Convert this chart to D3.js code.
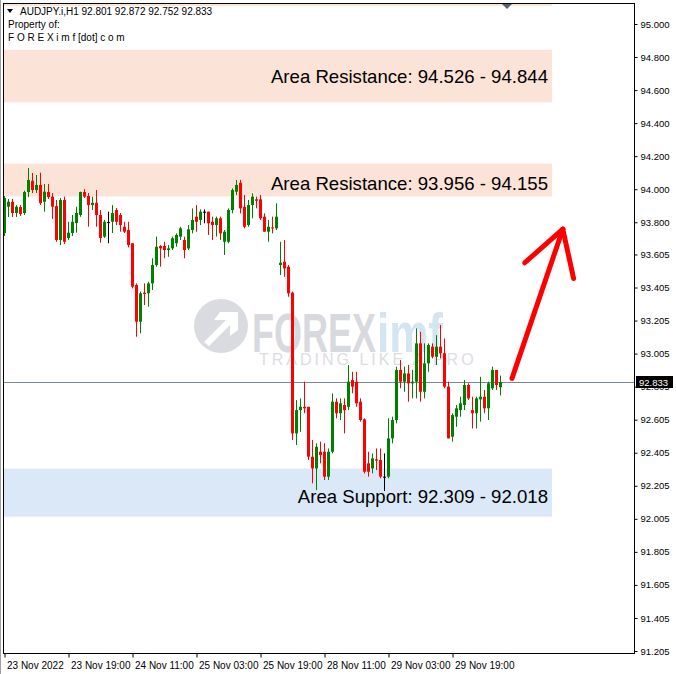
<!DOCTYPE html>
<html><head><meta charset="utf-8">
<script src="https://cdn.jsdelivr.net/npm/d3@7/dist/d3.min.js"></script>
<style>
html,body{margin:0;padding:0;background:#fff;}
svg{display:block;font-family:"Liberation Sans",Arial,sans-serif;}
</style></head>
<body>
<svg id="chart" width="676" height="674"></svg>
<script>
// ---- data (AUDJPY.i, H1) ----
const opens  = [93.735,93.894,93.924,93.856,93.892,93.856,93.983,94.051,93.995,94.026,93.924,93.983,93.955,93.898,93.693,93.935,93.705,93.735,93.795,93.844,93.983,93.959,93.904,93.918,93.844,93.713,93.801,93.803,93.874,93.844,93.773,93.753,93.673,93.420,93.198,93.374,93.370,93.430,93.541,93.656,93.656,93.632,93.642,93.673,93.713,93.693,93.642,93.753,93.834,93.814,93.864,93.864,93.803,93.783,93.824,93.682,93.682,93.874,93.985,94.039,93.894,93.783,93.904,93.939,93.939,93.834,93.743,93.769,93.763,93.541,93.561,93.531,93.374,92.522,92.663,92.683,92.683,92.381,92.310,92.411,92.411,92.260,92.411,92.714,92.644,92.694,92.683,92.845,92.835,92.714,92.607,92.341,92.310,92.365,92.361,92.260,92.260,92.492,92.603,92.906,92.835,92.885,92.825,92.835,93.067,92.774,92.946,93.047,92.986,93.047,93.007,92.805,92.502,92.623,92.663,92.694,92.815,92.663,92.644,92.728,92.744,92.674,92.795,92.906,92.801];
const highs  = [93.959,93.941,93.941,93.904,93.904,93.991,94.128,94.098,94.086,94.100,94.032,94.032,93.977,93.935,93.947,93.955,93.803,93.844,93.894,93.985,94.001,93.977,93.955,93.995,93.874,93.814,93.864,93.904,93.886,93.856,93.803,93.803,93.673,93.430,93.380,93.430,93.440,93.582,93.713,93.662,93.682,93.662,93.713,93.733,93.773,93.713,93.783,93.884,93.904,93.878,93.878,93.864,93.834,93.834,93.834,93.753,93.884,94.005,94.056,94.056,93.965,93.935,93.975,93.955,93.965,93.854,93.814,93.834,93.915,93.682,93.693,93.541,93.380,92.724,92.734,92.835,92.683,92.482,92.462,92.472,92.462,92.431,92.764,92.734,92.734,92.734,92.936,92.895,92.895,92.734,92.613,92.411,92.401,92.431,92.431,92.401,92.613,92.623,92.926,92.966,92.926,92.936,92.906,93.158,93.137,93.067,93.067,93.067,93.117,93.178,93.097,92.835,92.643,92.694,92.744,92.845,92.825,92.744,92.744,92.865,92.785,92.835,92.926,92.906,92.872];
const lows   = [93.717,93.832,93.832,93.832,93.838,93.844,93.953,93.977,93.977,93.904,93.864,93.941,93.820,93.682,93.662,93.668,93.693,93.717,93.737,93.833,93.947,93.773,93.874,93.773,93.676,93.705,93.673,93.735,93.783,93.743,93.735,93.648,93.400,93.107,93.128,93.299,93.289,93.390,93.531,93.531,93.582,93.591,93.632,93.652,93.693,93.582,93.632,93.733,93.743,93.783,93.794,93.723,93.693,93.713,93.693,93.602,93.673,93.854,93.965,93.854,93.763,93.773,93.824,93.884,93.814,93.743,93.682,93.733,93.753,93.481,93.470,93.349,92.482,92.452,92.532,92.644,92.361,92.220,92.179,92.341,92.240,92.240,92.401,92.613,92.603,92.522,92.663,92.765,92.683,92.593,92.280,92.260,92.280,92.300,92.250,92.173,92.250,92.462,92.583,92.795,92.774,92.714,92.734,92.734,92.714,92.734,92.895,92.976,92.936,92.976,92.795,92.492,92.472,92.562,92.623,92.663,92.724,92.552,92.552,92.593,92.644,92.603,92.785,92.785,92.752];
const closes = [93.947,93.924,93.856,93.894,93.850,93.983,94.056,93.995,94.026,93.916,93.985,93.953,93.894,93.693,93.935,93.682,93.737,93.803,93.856,93.983,93.955,93.904,93.918,93.844,93.705,93.803,93.801,93.856,93.803,93.783,93.743,93.662,93.410,93.198,93.370,93.366,93.430,93.541,93.652,93.642,93.632,93.642,93.703,93.723,93.763,93.632,93.757,93.814,93.803,93.864,93.864,93.794,93.783,93.824,93.733,93.743,93.874,93.995,94.026,93.884,93.773,93.904,93.955,93.930,93.824,93.743,93.773,93.763,93.834,93.555,93.521,93.370,92.522,92.663,92.683,92.674,92.381,92.310,92.441,92.391,92.260,92.411,92.714,92.644,92.704,92.663,92.835,92.805,92.704,92.603,92.290,92.290,92.371,92.357,92.260,92.260,92.492,92.603,92.906,92.835,92.885,92.825,92.835,93.067,92.774,92.946,93.057,92.986,93.047,93.007,92.805,92.492,92.633,92.674,92.704,92.815,92.734,92.644,92.734,92.744,92.674,92.825,92.906,92.815,92.833];

const priceTicks = [95.000,94.800,94.600,94.400,94.200,94.000,93.800,93.605,93.405,93.205,93.005,92.805,92.605,92.405,92.205,92.005,91.805,91.605,91.405,91.205];
const timeTickIndex  = [0,16,32,48,64,80,96,112];
const timeTickLabels = ["23 Nov 2022","23 Nov 19:00","24 Nov 11:00","25 Nov 03:00","25 Nov 19:00","28 Nov 11:00","29 Nov 03:00","29 Nov 19:00"];

const zoneLabels = ["Area Resistance: 94.526 - 94.844","Area Resistance: 93.956 - 94.155","Area Support: 92.309 - 92.018",""];
const zoneLow    = [94.526, 93.956, 92.018, 95.109];
const zoneHigh   = [94.844, 94.155, 92.309, 95.600];
const zoneKind   = ["res","res","sup","res"];

const symbolHeader = "AUDJPY.i,H1  92.801 92.872 92.752 92.833";
const lastPrice = 92.833;
// arrow (bar index, price) points
const arrowIdx   = [127, 139.7, 130.2, 142.4];
const arrowPrice = [92.855, 93.758, 93.555, 93.460];

// ---- layout ----
const svg = d3.select("#chart");
const L = 3, R = 634, T = 3, B = 653;
const x = d3.scaleLinear().domain([0, 124]).range([4, 500]);
const y = d3.scaleLinear().domain([91.205, 95.000]).range([651, 24]);

svg.append("defs").append("clipPath").attr("id","clip")
  .append("rect").attr("x",L).attr("y",T).attr("width",R-L).attr("height",B-T);

const plot = svg.append("g").attr("clip-path","url(#clip)");

// zones
const zoneColor = {res:"#fbe3d7", sup:"#dae8f7"};
zoneLow.forEach((lo,k)=>{
  plot.append("rect")
    .attr("x", L).attr("width", 552-L)
    .attr("y", y(zoneHigh[k])).attr("height", y(lo)-y(zoneHigh[k]))
    .attr("fill", zoneColor[zoneKind[k]]);
});

// watermark
const wm = plot.append("g").attr("opacity",1);
wm.append("circle").attr("cx",221).attr("cy",326).attr("r",27).attr("fill","#d9dbe0");
wm.append("path").attr("d","M204,342 L226,320 L214,320 L220,312 L238,312 L238,330 L230,336 L230,325 L209,346 Z").attr("fill","#ffffff");
wm.append("text").attr("x",252).attr("y",352).attr("font-size",56).attr("font-weight","bold")
  .attr("fill","#d7d9df").attr("textLength",124).attr("lengthAdjust","spacingAndGlyphs").text("FOREX");
wm.append("text").attr("x",377).attr("y",352).attr("font-size",56).attr("font-weight","bold")
  .attr("fill","#d5e4f1").attr("textLength",66).attr("lengthAdjust","spacingAndGlyphs").text("imf");
wm.append("text").attr("x",259).attr("y",365).attr("font-size",16)
  .attr("fill","#dcdde2").attr("letter-spacing",3).text("TRADING LIKE A PRO");

// zone labels
zoneLabels.forEach((t,k)=>{
  if(!t) return;
  const mid = (y(zoneLow[k]) + y(zoneHigh[k]))/2;
  let by = zoneKind[k]==="sup" ? y(zoneHigh[k]) + 34 : mid + 7;
  if(k===1) by = y(zoneHigh[k]) + 26;
  plot.append("text").attr("x",548).attr("y",by).attr("text-anchor","end")
    .attr("font-size",18.6).attr("fill","#000").text(t);
});

// current price line
plot.append("line").attr("x1",L).attr("x2",R).attr("y1",Math.round(y(lastPrice))+0.5).attr("y2",Math.round(y(lastPrice))+0.5)
  .attr("stroke","#7a8898").attr("stroke-width",1);

// candles
const candles = plot.append("g");
opens.forEach((o,i)=>{
  const c = closes[i];
  const cx = Math.round(x(i));
  const col = c > o ? "#008000" : (c < o ? "#ff0000" : "#000000");
  candles.append("line").attr("x1",cx+0.5).attr("x2",cx+0.5)
    .attr("y1",y(highs[i])).attr("y2",y(lows[i])).attr("stroke",col).attr("stroke-width",1);
  const top = y(Math.max(o,c)), bot = y(Math.min(o,c));
  candles.append("rect").attr("x",cx-1).attr("width",3)
    .attr("y",top).attr("height",Math.max(1,bot-top)).attr("fill",col);
});

// shift marker
svg.append("path").attr("d","M502,4 L512,4 L507,9 Z").attr("fill","#5a6272");

// arrow
const ap = arrowIdx.map((d,k)=>[x(d), y(arrowPrice[k])]);
const arrowG = svg.append("g").attr("stroke","#ff0000").attr("stroke-width",5).attr("stroke-linecap","round").attr("fill","none");
arrowG.append("line").attr("x1",ap[0][0]).attr("y1",ap[0][1]).attr("x2",ap[1][0]).attr("y2",ap[1][1]);
arrowG.append("line").attr("x1",ap[2][0]).attr("y1",ap[2][1]).attr("x2",ap[1][0]).attr("y2",ap[1][1]);
arrowG.append("line").attr("x1",ap[3][0]).attr("y1",ap[3][1]).attr("x2",ap[1][0]).attr("y2",ap[1][1]);

// frame
svg.append("rect").attr("x",L+0.5).attr("y",T+0.5).attr("width",R-L).attr("height",B-T)
  .attr("fill","none").attr("stroke","#000").attr("stroke-width",1);
svg.append("line").attr("x1",0.5).attr("x2",0.5).attr("y1",0).attr("y2",674).attr("stroke","#a0a0a0");

// price axis
const yAxis = d3.axisRight(y).tickValues(priceTicks).tickFormat(d3.format(".3f")).tickSize(3).tickPadding(3);
const ga = svg.append("g").attr("transform",`translate(${R+0.5},0)`).call(yAxis);
ga.select(".domain").remove();
ga.selectAll("text").attr("font-size",9.5).attr("font-family","Liberation Sans, Arial, sans-serif").attr("fill","#000");

// last price label
const ly = Math.round(y(lastPrice));
svg.append("rect").attr("x",636).attr("y",ly-6).attr("width",37).attr("height",12).attr("fill","#000");
svg.append("text").attr("x",639).attr("y",ly+4).attr("font-size",9.5).attr("fill","#fff").text(d3.format(".3f")(lastPrice));

// time axis
const xAxis = d3.axisBottom(x).tickValues(timeTickIndex).tickFormat((d,k)=>timeTickLabels[k]).tickSize(4).tickPadding(4);
const gx = svg.append("g").attr("transform",`translate(0.5,${B+0.5})`).call(xAxis);
gx.select(".domain").remove();
gx.selectAll("text").attr("text-anchor","start").attr("dx",2).attr("font-size",10)
  .attr("font-family","Liberation Sans, Arial, sans-serif").attr("fill","#000");

// header texts
svg.append("path").attr("d","M7,9 L13,9 L10,13 Z").attr("fill","#000");
svg.append("text").attr("x",20).attr("y",15).attr("font-size",10).text(symbolHeader);
svg.append("text").attr("x",8).attr("y",28).attr("font-size",10).text("Property of:");
svg.append("text").attr("x",8).attr("y",41).attr("font-size",10).text("F O R E X i m f [dot] c o m");
</script>
</body></html>
